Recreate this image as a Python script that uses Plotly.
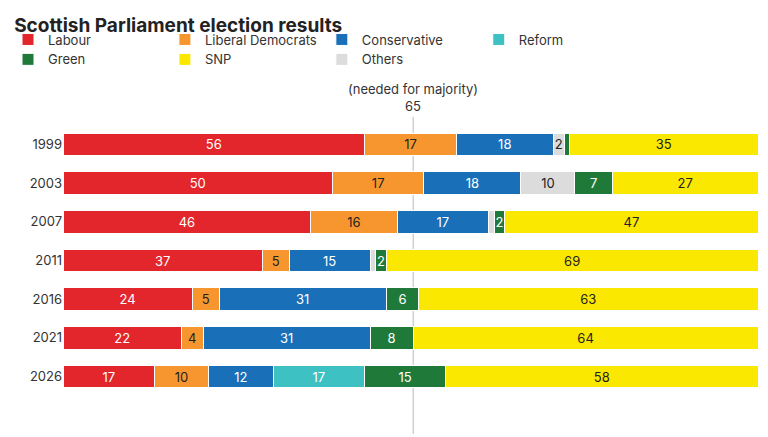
import plotly.graph_objects as go

years = ["1999", "2003", "2007", "2011", "2016", "2021", "2026"]
parties = ["Labour", "Liberal Democrats", "Conservative", "Reform", "Others", "Green", "SNP"]
seats = {
    "Labour": [56, 50, 46, 37, 24, 22, 17],
    "Liberal Democrats": [17, 17, 16, 5, 5, 4, 10],
    "Conservative": [18, 18, 17, 15, 31, 31, 12],
    "Reform": [0, 0, 0, 0, 0, 0, 17],
    "Others": [2, 10, 1, 1, 0, 0, 0],
    "Green": [1, 7, 2, 2, 6, 8, 15],
    "SNP": [35, 27, 47, 69, 63, 64, 58],
}
colors = {
    "Labour": "#e3262b", "Liberal Democrats": "#f7962f", "Conservative": "#1a6fb9",
    "Reform": "#3ec1c3", "Others": "#dcdcdc", "Green": "#1f7a3a", "SNP": "#fbe800",
}
dark_text = {"Liberal Democrats", "Others", "SNP"}
legend_order = ["Labour", "Liberal Democrats", "Conservative", "Reform", "Green", "SNP", "Others"]
majority = 65

fig = go.Figure()
for p in parties:
    vals = seats[p]
    fig.add_trace(go.Bar(
        y=years, x=vals, name=p, orientation="h",
        marker=dict(color=colors[p], line=dict(color="white", width=1)),
        text=[str(v) if v >= 2 else "" for v in vals],
        textposition="inside", insidetextanchor="middle", textangle=0,
        textfont=dict(size=13, color="#222" if p in dark_text else "white"),
        legendrank=legend_order.index(p), hoverinfo="x+name",
    ))

fig.add_shape(type="line", x0=majority, x1=majority, xref="x", yref="paper",
              y0=-0.14, y1=1.03, line=dict(color="#bbbbbb", width=1), layer="below")
fig.add_annotation(x=majority, xref="x", y=1.035, yref="paper", yanchor="bottom",
                   text="(needed for majority)<br>65", showarrow=False,
                   font=dict(size=13, color="#333"))

fig.update_layout(
    width=768, height=437, barmode="stack", bargap=0.42,
    plot_bgcolor="white", paper_bgcolor="white",
    font=dict(family="Inter, Roboto, sans-serif", size=13, color="#333"),
    margin=dict(l=55, r=18, t=117, b=49, autoexpand=False),
    title=dict(text="<b>Scottish Parliament election results</b>", x=0.008, y=0.975,
               xanchor="left", yanchor="top", font=dict(size=19, color="#222")),
    legend=dict(orientation="h", x=0.0, xref="container", y=0.905, yref="container",
                xanchor="left", yanchor="middle", font=dict(size=13),
                traceorder="normal", itemwidth=30, entrywidth=0, tracegroupgap=0),
    xaxis=dict(visible=False, range=[0, 129]),
    yaxis=dict(autorange="reversed", ticks="", showline=False, tickfont=dict(size=13)),
    uniformtext=dict(minsize=8, mode="show"),
)
fig.add_annotation(text="PA interactive graphic. Source: PA data", xref="paper", yref="paper",
                   x=-0.065, y=-0.14, xanchor="left", yanchor="top", showarrow=False,
                   font=dict(size=11, color="#555"))

fig.write_html("out.html")
